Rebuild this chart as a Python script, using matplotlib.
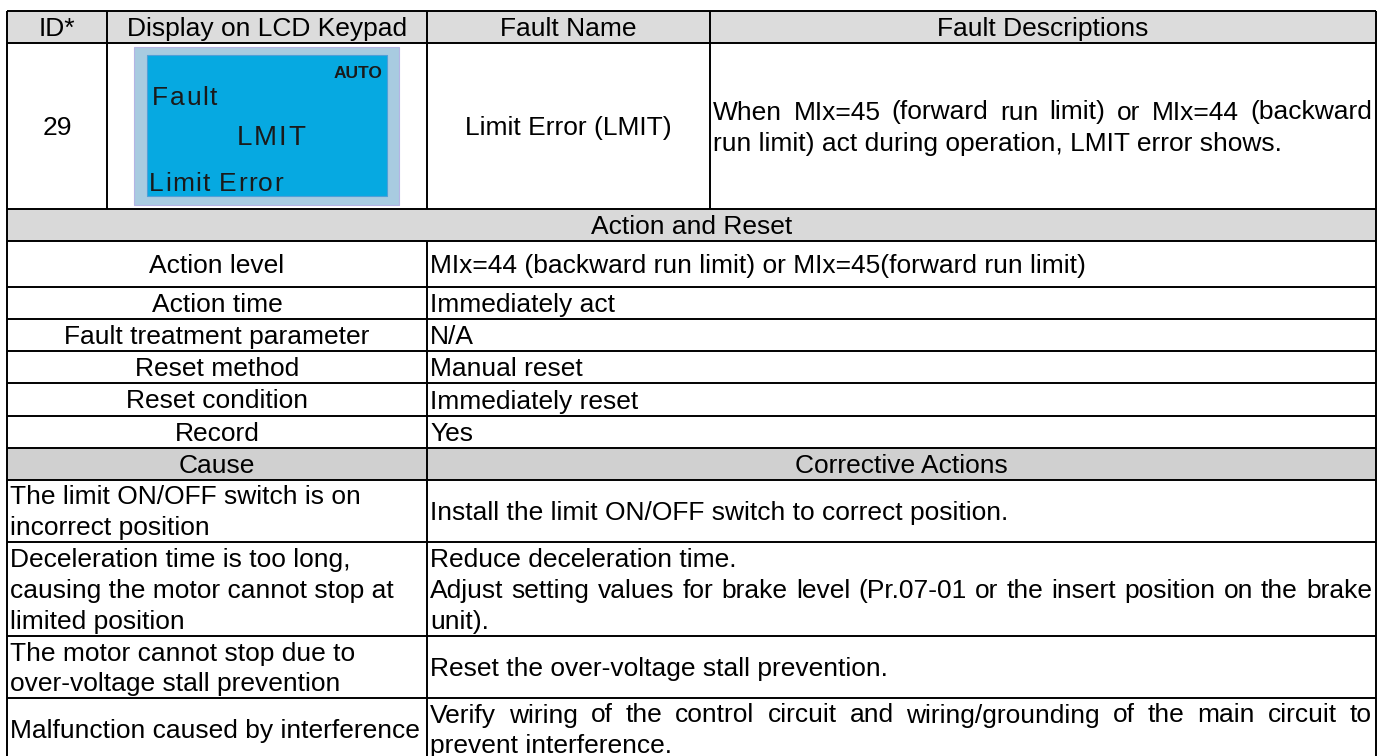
import matplotlib
matplotlib.use("Agg")
import matplotlib.pyplot as plt
from matplotlib.patches import Rectangle
from matplotlib.ft2font import FT2Font
from matplotlib.font_manager import findfont, FontProperties

plt.rcParams['font.family'] = ['Liberation Sans', 'DejaVu Sans']

# table content
header_labels = ["ID*", "Display on LCD Keypad", "Fault Name", "Fault Descriptions"]
fault_id = "29"
fault_name = "Limit Error (LMIT)"
description = ["When MIx=45 (forward run limit) or MIx=44 (backward",
               "run limit) act during operation, LMIT error shows."]
lcd_lines = ["AUTO", "Fault", "LMIT", "Limit Error"]
section_title = "Action and Reset"
action_labels = ["Action level", "Action time", "Fault treatment parameter",
                 "Reset method", "Reset condition", "Record"]
action_values = ["MIx=44 (backward run limit) or MIx=45(forward run limit)",
                 "Immediately act", "N/A", "Manual reset", "Immediately reset", "Yes"]
cause_header = ["Cause", "Corrective Actions"]
causes = [["The limit ON/OFF switch is on", "incorrect position"],
          ["Deceleration time is too long,", "causing the motor cannot stop at",
           "limited position"],
          ["The motor cannot stop due to", "over-voltage stall prevention"],
          ["Malfunction caused by interference"]]
fixes = [["Install the limit ON/OFF switch to correct position."],
         ["Reduce deceleration time.",
          "Adjust setting values for brake level (Pr.07-01 or the insert position on the brake",
          "unit)."],
         ["Reset the over-voltage stall prevention."],
         ["Verify wiring of the control circuit and wiring/grounding of the main circuit to",
          "prevent interference."]]
justify_lines = {description[0], fixes[1][1], fixes[3][0]}

# layout in pixels
W, H = 1389, 756
xL, xID, xLCD, xName, xR = 7, 107, 427, 710, 1376
rows = [11, 43, 209, 241, 287, 319, 351, 383, 416, 448, 480, 542, 636, 698, 760]
FS = 19
LH = 31
BASE = 9

fig = plt.figure(figsize=(W / 100, H / 100), dpi=100)
ax = fig.add_axes([0, 0, 1, 1])
ax.set_xlim(0, W)
ax.set_ylim(H, 0)
ax.axis('off')
renderer = fig.canvas.get_renderer()
ftfont = FT2Font(findfont(FontProperties(family='Liberation Sans')))


def put(x, yc, s, ha='left', **kw):
    return ax.text(x, yc + BASE, s, ha=ha, va='baseline', fontsize=FS, color='black', **kw)


def width_of(t):
    return t.get_window_extent(renderer=renderer).width


def justified(x0, x1, yc, s):
    words = s.split(' ')
    objs = [put(0, yc, w) for w in words]
    widths = [width_of(o) for o in objs]
    gap = (x1 - x0 - sum(widths)) / (len(words) - 1)
    x = x0
    for o, w in zip(objs, widths):
        o.set_x(x)
        x += w + gap


def block(x, top, bot, lines, ha='left', x1=None):
    y0 = (top + bot) / 2 - (len(lines) - 1) * LH / 2
    for i, s in enumerate(lines):
        yc = y0 + i * LH
        if s in justify_lines:
            justified(x, x1, yc, s)
        else:
            put(x, yc, s, ha=ha)


def spaced(x, yc, s, size, extra, color, center=False):
    # LCD lettering is a little wider than plain text
    ftfont.set_size(size, 100)
    adv = [ftfont.load_char(ord(ch)).linearHoriAdvance / 65536 for ch in s]
    total = sum(adv) + extra * (len(s) - 1)
    if center:
        x = x - total / 2
    for ch, a in zip(s, adv):
        ax.text(x, yc + BASE, ch, ha='left', va='baseline', fontsize=size, color=color)
        x += a + extra


# gray bands
for top, bot, col in [(rows[0], rows[1], '#dcdcdc'), (rows[2], rows[3], '#d9d9d9'),
                      (rows[9], rows[10], '#d0d0d0')]:
    ax.add_patch(Rectangle((xL, top), xR - xL, bot - top, fc=col, ec='none'))

# grid
lw = 1.4
ax.hlines(rows, xL, xR, color='black', lw=lw)
ax.vlines([xL, xR], rows[0], rows[-1], color='black', lw=lw)
ax.vlines([xID, xName], rows[0], rows[2], color='black', lw=lw)
ax.vlines(xLCD, rows[0], rows[2], color='black', lw=lw)
ax.vlines(xLCD, rows[3], rows[-1], color='black', lw=lw)

# header
cols = [xL, xID, xLCD, xName, xR]
for i, s in enumerate(header_labels):
    put((cols[i] + cols[i + 1]) / 2, (rows[0] + rows[1]) / 2, s, ha='center')

# fault row
mid = (rows[1] + rows[2]) / 2
put((xL + xID) / 2, mid, fault_id, ha='center')
put((xLCD + xName) / 2, mid, fault_name, ha='center')
block(xName + 3, rows[1], rows[2], description, x1=xR - 4)

# LCD keypad picture
ax.add_patch(Rectangle((134, 47), 265, 158, fc='#a8cbe0', ec='#b4b4e4', lw=0.8))
ax.add_patch(Rectangle((147, 55), 240, 141, fc='#06a9e1', ec='#4f9fd8', lw=0.8))
lcd_col = '#1a1a1a'
ax.text(382, 72 + 6, lcd_lines[0], ha='right', va='baseline', fontsize=12.5,
        fontweight='bold', color=lcd_col)
spaced(152, 96, lcd_lines[1], FS, 1.6, lcd_col)
spaced(271, 136, lcd_lines[2], 20, 2.0, lcd_col, center=True)
spaced(149, 182, lcd_lines[3], FS, 1.2, lcd_col)

# action and reset
put((xL + xR) / 2, (rows[2] + rows[3]) / 2, section_title, ha='center')
for i, (lab, val) in enumerate(zip(action_labels, action_values)):
    top, bot = rows[3 + i], rows[4 + i]
    put((xL + xLCD) / 2, (top + bot) / 2, lab, ha='center')
    put(xLCD + 3, (top + bot) / 2, val)

# cause / corrective actions
put((xL + xLCD) / 2, (rows[9] + rows[10]) / 2, cause_header[0], ha='center')
put((xLCD + xR) / 2, (rows[9] + rows[10]) / 2, cause_header[1], ha='center')
for i, (c, f) in enumerate(zip(causes, fixes)):
    top, bot = rows[10 + i], rows[11 + i]
    block(xL + 3, top, bot, c)
    block(xLCD + 3, top, bot, f, x1=xR - 4)

fig.savefig("out.png", dpi=100)
